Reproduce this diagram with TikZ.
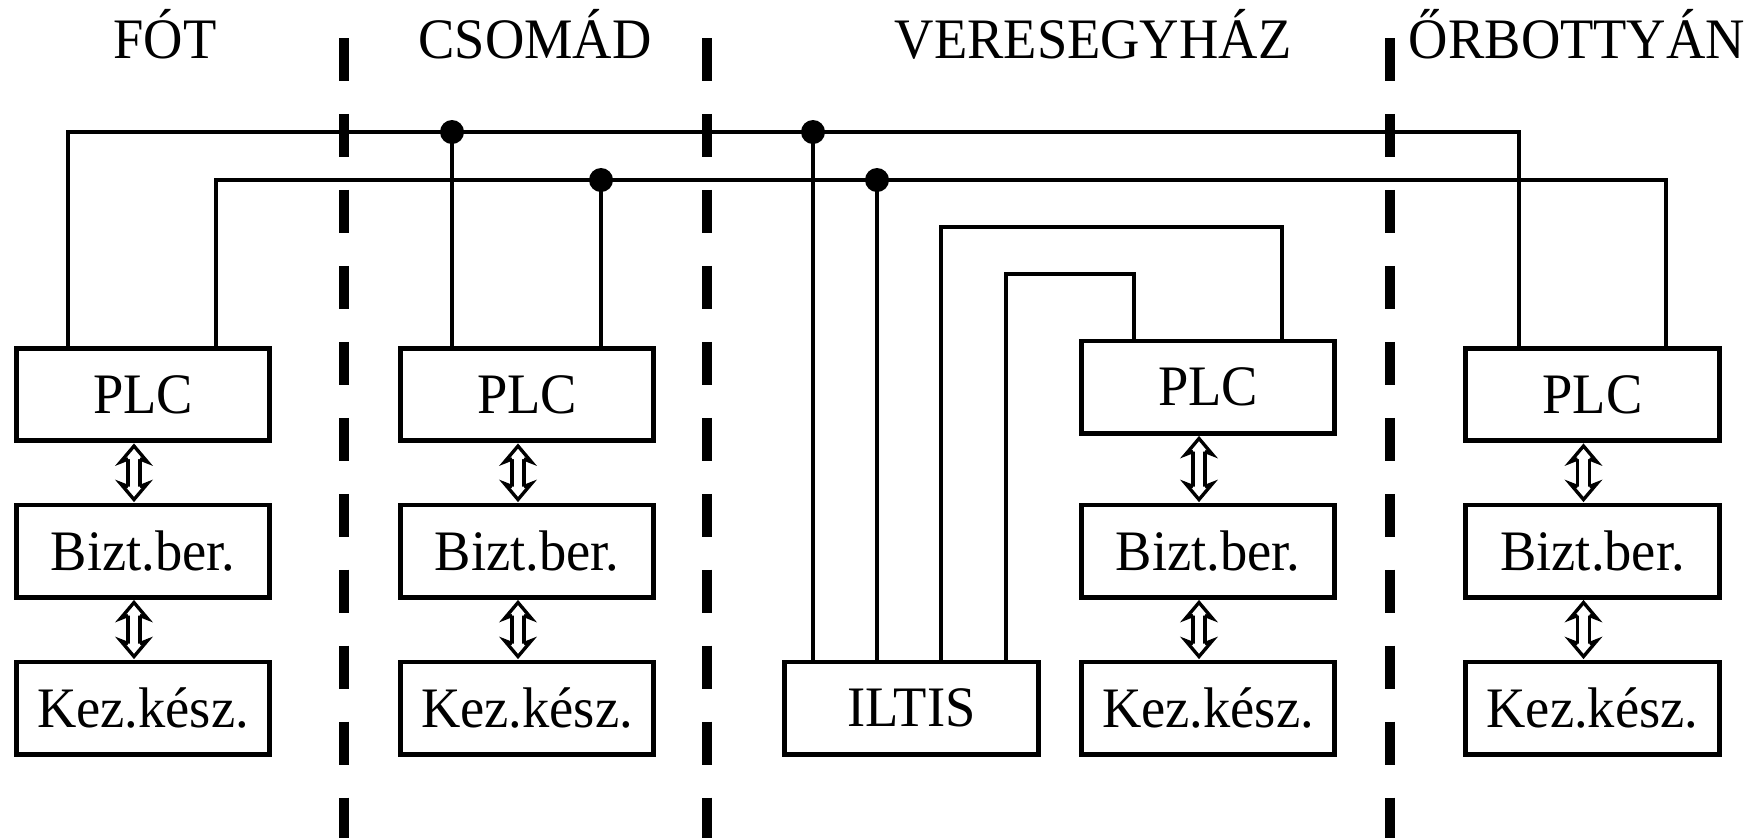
\documentclass[tikz,border=0pt]{standalone}
\usepackage{fontspec}
\setmainfont{Liberation Serif}
\usetikzlibrary{arrows.meta,calc}
\newcommand{\tall}[1]{\scalebox{1}[1.05]{#1}}
\begin{document}
\begin{tikzpicture}[x=0.01cm,y=-0.01cm,
  every node/.style={font=\fontsize{15.5}{18}\selectfont},
  unit/.style={draw,line width=1.4pt,minimum width=2.53cm,minimum height=0.92cm,inner sep=0pt},
  title/.style={anchor=base,inner sep=0pt},
  wire/.style={line width=1.1pt},
  border/.style={line width=2.9pt,dash pattern=on 12.2pt off 9.4pt},
  shaft/.style={double,double distance=2.4pt,line width=0.95pt},
  head/.style={draw,fill=white,line width=0.95pt,line join=miter},
  junction/.style={fill=black}]
\useasboundingbox (0,0) rectangle (1758,838);
% titles
\node[title] (tf) at (165,58) {\tall{FÓT}};
\node[title] (tc) at (535,58) {\tall{CSOMÁD}};
\node[title] (tv) at (1093,58) {\tall{VERESEGYHÁZ}};
\node[title] (to) at (1577,58) {\tall{ŐRBOTTYÁN}};
% borders
\draw[border] (344,38) -- (344,838);
\draw[border] (707,38) -- (707,838);
\draw[border] (1390,38) -- (1390,838);
% units
\node[unit] (fp) at (143,394.5) {\tall{PLC}};
\node[unit] (fb) at (143,551) {\tall{Bizt.ber.}};
\node[unit] (fk) at (143,708) {\tall{Kez.kész.}};
\node[unit] (cp) at (527,394.5) {\tall{PLC}};
\node[unit] (cb) at (527,551) {\tall{Bizt.ber.}};
\node[unit] (ck) at (527,708) {\tall{Kez.kész.}};
\node[unit] (il) at (911.5,708) {\tall{ILTIS}};
\node[unit] (vp) at (1208,387) {\tall{PLC}};
\node[unit] (vb) at (1208,551) {\tall{Bizt.ber.}};
\node[unit] (vk) at (1208,708) {\tall{Kez.kész.}};
\node[unit] (op) at (1592.5,394.5) {\tall{PLC}};
\node[unit] (ob) at (1592.5,551) {\tall{Bizt.ber.}};
\node[unit] (ok) at (1592.5,708) {\tall{Kez.kész.}};
% double arrows (open heads at both ends)
\foreach \a/\b in {fp/fb,fb/fk,cp/cb,cb/ck,vp/vb,vb/vk,op/ob,ob/ok}{
  \coordinate (atop) at ([xshift=-0.09cm,yshift=-0.03cm]\a.south);
  \coordinate (abot) at ([xshift=-0.09cm,yshift=0.03cm]\b.north);
  \draw[shaft] ([yshift=-0.12cm]atop) -- ([yshift=0.12cm]abot);
  \begin{scope}[shift={(atop)}]
    \path[head] (-5.85,13) -- (-13.5,16) -- (0,0) -- (13.5,16) -- (5.85,13);
  \end{scope}
  \begin{scope}[shift={(abot)},yscale=-1]
    \path[head] (-5.85,13) -- (-13.5,16) -- (0,0) -- (13.5,16) -- (5.85,13);
  \end{scope}
}
% bus coordinates
\coordinate (t1) at (68,132);
\coordinate (t2) at (1519,132);
\coordinate (s1) at (216,180);
\coordinate (s2) at (1666,180);
\coordinate (jc1) at (452,132);
\coordinate (jv1) at (813,132);
\coordinate (jc2) at (601,180);
\coordinate (jv2) at (877,180);
\coordinate (l1a) at (941,227);
\coordinate (l1b) at (1282,227);
\coordinate (l2a) at (1006,274);
\coordinate (l2b) at (1134,274);
% buses
\draw[wire] (t1 |- fp.north) -- (t1) -- (t2) -- (t2 |- op.north);
\draw[wire] (s1 |- fp.north) -- (s1) -- (s2) -- (s2 |- op.north);
\draw[wire] (jc1) -- (jc1 |- cp.north);
\draw[wire] (jc2) -- (jc2 |- cp.north);
\draw[wire] (jv1) -- (jv1 |- il.north);
\draw[wire] (jv2) -- (jv2 |- il.north);
\draw[wire] (l1a |- il.north) -- (l1a) -- (l1b) -- (l1b |- vp.north);
\draw[wire] (l2a |- il.north) -- (l2a) -- (l2b) -- (l2b |- vp.north);
% junction dots
\foreach \j in {jc1,jc2,jv1,jv2}
  \fill[junction] (\j) circle[radius=0.12cm];
\end{tikzpicture}
\end{document}
